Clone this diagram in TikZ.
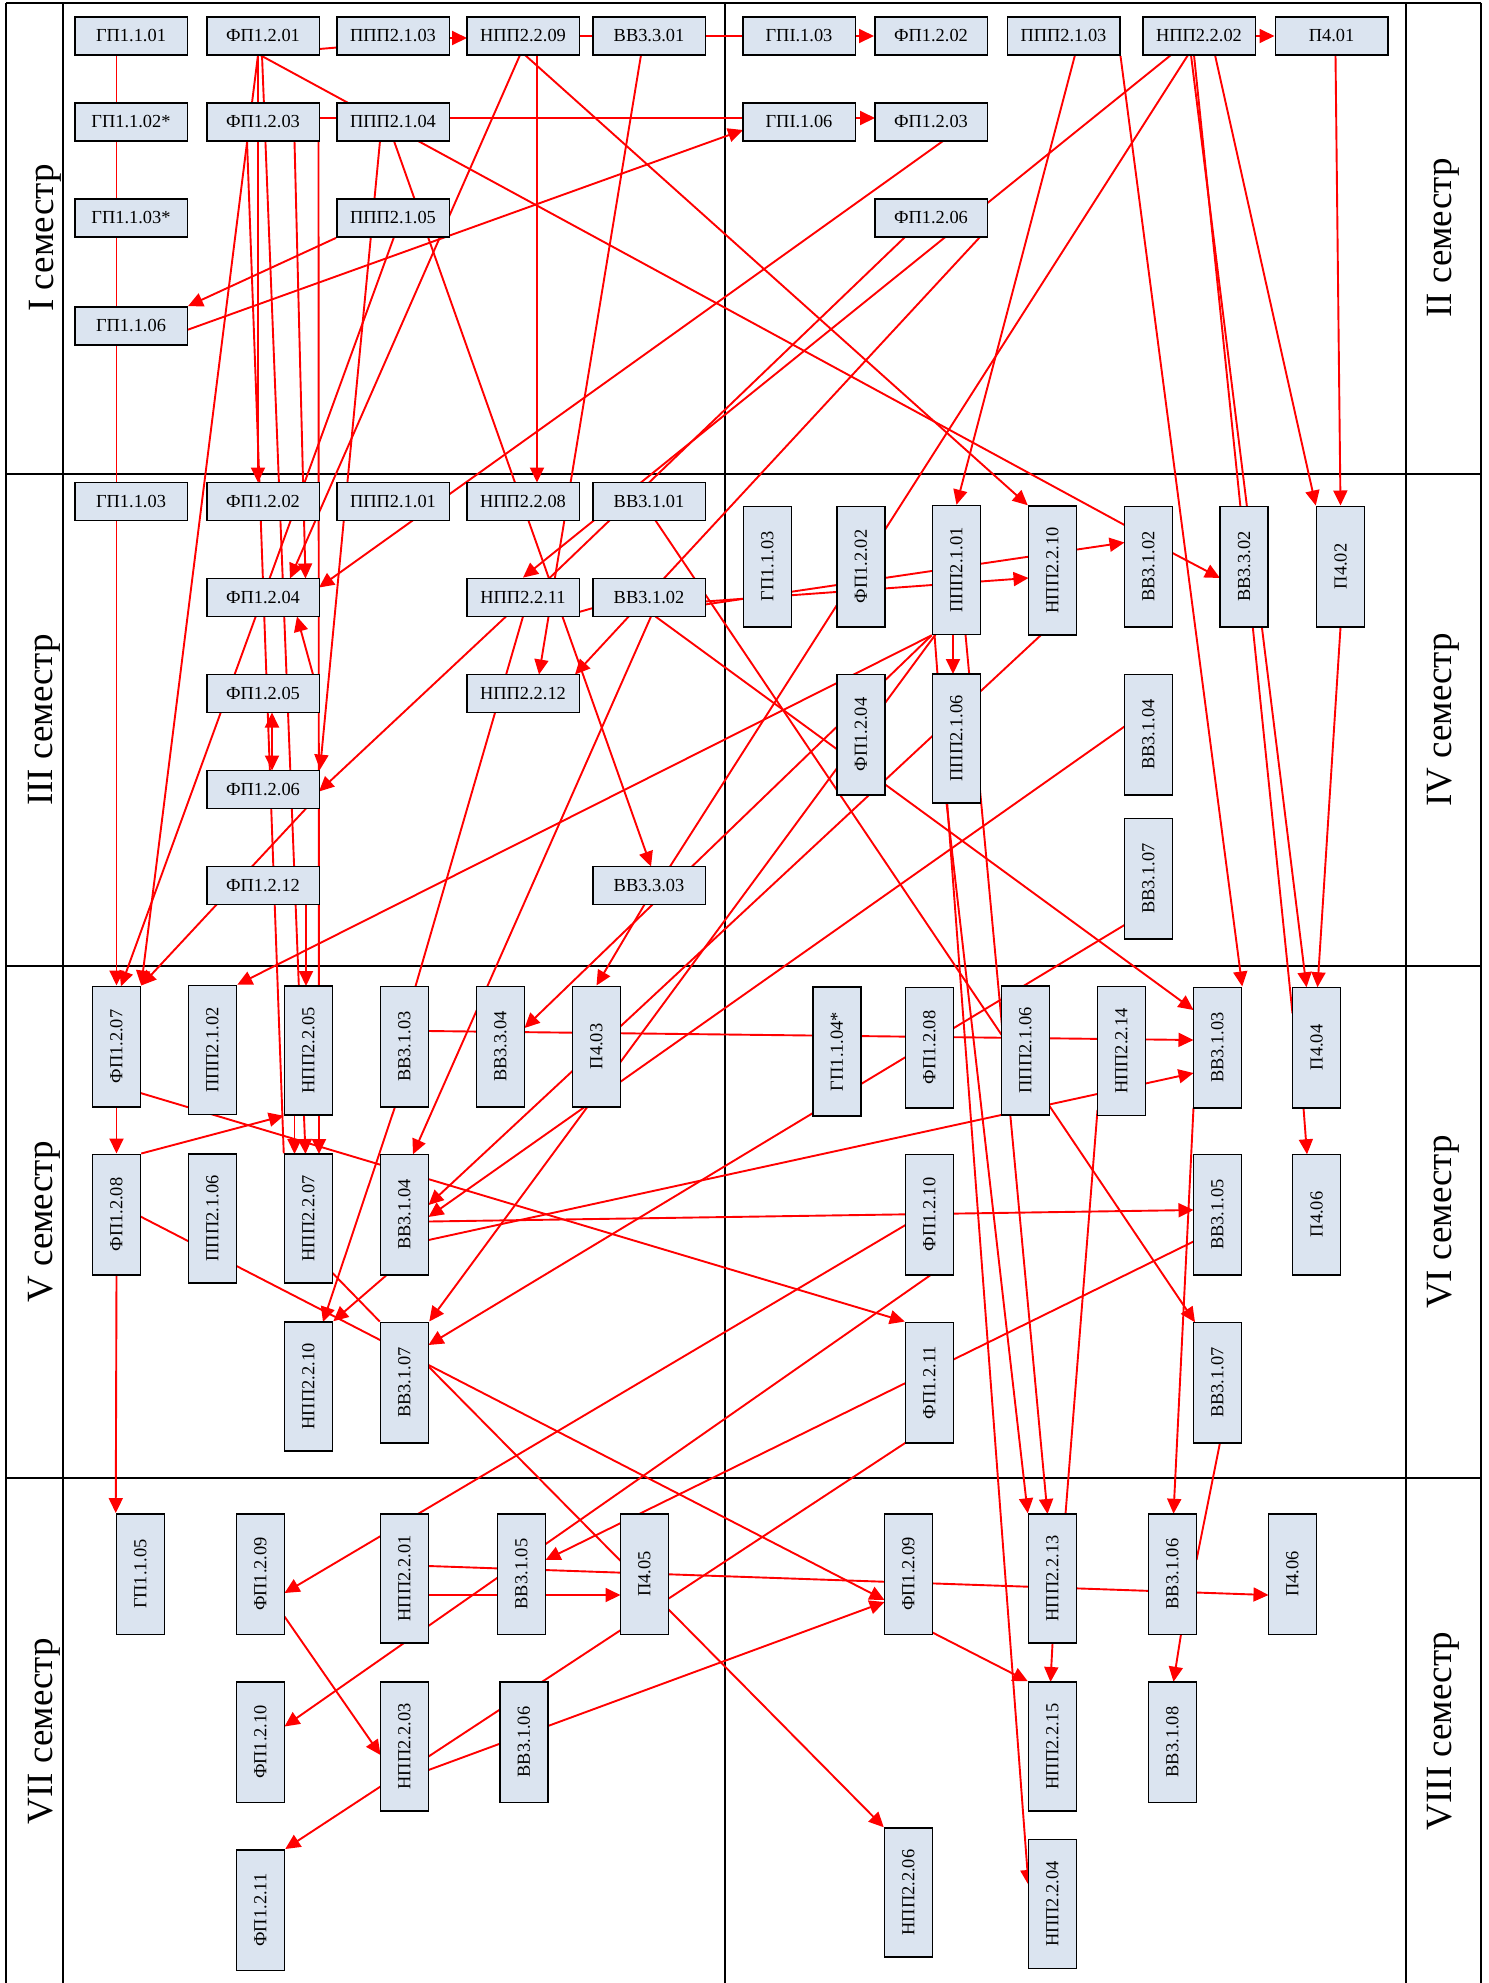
\documentclass[tikz,border=0pt]{standalone}
\usepackage{fontspec}
\setmainfont{Liberation Serif}
\usepackage{graphicx}
\usetikzlibrary{calc,arrows.meta}
\definecolor{boxfill}{HTML}{DBE4F0}
\pgfdeclarelayer{bg}
\pgfsetlayers{bg,main}
\newcommand{\vtext}[1]{\rotatebox{90}{#1}}

\begin{document}
\begin{tikzpicture}[x=0.5pt, y=-0.5pt, >={Triangle[length=7.5pt,width=7pt]},
	hbox/.style={draw, line width=0.75pt, fill=boxfill, inner sep=0pt,
		minimum width=56.25pt, minimum height=19.15pt, font=\fontsize{9.2}{10}\selectfont},
	vbox/.style={hbox, minimum width=24pt, minimum height=60.25pt},
	vboxl/.style={vbox, minimum height=64.5pt},
	sem/.style={rotate=90, font=\fontsize{18.5}{20}\selectfont},
	ln/.style={draw=red, line width=0.95pt},
	arr/.style={ln, ->},
	tabline/.style={line width=0.9pt}]
	\useasboundingbox (0,0) rectangle (1489,1983);

	% semester I
	\node[hbox] (g1101) at (131,36) {ГП1.1.01};
	\node[hbox] (f1201) at (263,36) {ФП1.2.01};
	\node[hbox] (p2103) at (393,36) {ППП2.1.03};
	\node[hbox] (n2209) at (523,36) {НПП2.2.09};
	\node[hbox] (v3301) at (649,36) {ВВ3.3.01};
	\node[hbox] (g1102) at (131,122) {ГП1.1.02*};
	\node[hbox] (f1203) at (263,122) {ФП1.2.03};
	\node[hbox] (p2104) at (393,122) {ППП2.1.04};
	\node[hbox] (g1103s) at (131,218) {ГП1.1.03*};
	\node[hbox] (p2105) at (393,218) {ППП2.1.05};
	\node[hbox] (g1106) at (131,326) {ГП1.1.06};

	% semester II
	\node[hbox] (gb1103) at (799,36) {ГПІ.1.03};
	\node[hbox] (fb1202) at (931,36) {ФП1.2.02};
	\node[hbox] (pb2103) at (1063.5,36) {ППП2.1.03};
	\node[hbox] (nb2202) at (1199,36) {НПП2.2.02};
	\node[hbox] (pb401) at (1331.5,36) {П4.01};
	\node[hbox] (gb1106) at (799,122) {ГПІ.1.06};
	\node[hbox] (fb1203) at (931,122) {ФП1.2.03};
	\node[hbox] (fb1206) at (931,218) {ФП1.2.06};

	% semester III
	\node[hbox] (g1103) at (131,501.5) {ГП1.1.03};
	\node[hbox] (f1202) at (263,501.5) {ФП1.2.02};
	\node[hbox] (p2101) at (393,501.5) {ППП2.1.01};
	\node[hbox] (n2208) at (523,501.5) {НПП2.2.08};
	\node[hbox] (v3101) at (649,501.5) {ВВ3.1.01};
	\node[hbox] (f1204) at (263,597.5) {ФП1.2.04};
	\node[hbox] (n2211) at (523,597.5) {НПП2.2.11};
	\node[hbox] (v3102) at (649,597.5) {ВВ3.1.02};
	\node[hbox] (f1205) at (263,693.5) {ФП1.2.05};
	\node[hbox] (n2212) at (523,693.5) {НПП2.2.12};
	\node[hbox] (f1206) at (263,789.5) {ФП1.2.06};
	\node[hbox] (f1212) at (263,885.5) {ФП1.2.12};
	\node[hbox] (v3303) at (649,885.5) {ВВ3.3.03};

	% semester IV
	\node[vbox] (c1103) at (767.5,566.5) {\vtext{ГП1.1.03}};
	\node[vbox] (c1202) at (861,566.5) {\vtext{ФП1.2.02}};
	\node[vboxl] (c2101) at (956.5,570) {\vtext{ППП2.1.01}};
	\node[vboxl] (c2210) at (1052.5,570.5) {\vtext{НПП2.2.10}};
	\node[vbox] (c3102) at (1148.5,566.5) {\vtext{ВВ3.1.02}};
	\node[vbox] (c3302) at (1244,566.5) {\vtext{ВВ3.3.02}};
	\node[vbox] (c402) at (1340.5,566.5) {\vtext{П4.02}};
	\node[vbox] (c1204) at (861,734.5) {\vtext{ФП1.2.04}};
	\node[vboxl] (c2106) at (956.5,738.5) {\vtext{ППП2.1.06}};
	\node[vbox] (c3104) at (1148.5,734.5) {\vtext{ВВ3.1.04}};
	\node[vbox] (c3107) at (1148.5,878.5) {\vtext{ВВ3.1.07}};

	% semester V
	\node[vbox] (e1207) at (116.5,1046.5) {\vtext{ФП1.2.07}};
	\node[vboxl] (e2102) at (212.5,1050) {\vtext{ППП2.1.02}};
	\node[vboxl] (e2205) at (308.5,1050.5) {\vtext{НПП2.2.05}};
	\node[vbox] (e3103) at (404.5,1046.5) {\vtext{ВВ3.1.03}};
	\node[vbox] (e3304) at (500.5,1046.5) {\vtext{ВВ3.3.04}};
	\node[vbox] (e403) at (596.5,1046.5) {\vtext{П4.03}};
	\node[vbox] (e1208) at (116.5,1214.5) {\vtext{ФП1.2.08}};
	\node[vboxl] (e2106) at (212.5,1218.5) {\vtext{ППП2.1.06}};
	\node[vboxl] (e2207) at (308.5,1218.5) {\vtext{НПП2.2.07}};
	\node[vbox] (e3104) at (404.5,1214.5) {\vtext{ВВ3.1.04}};
	\node[vboxl] (e2210) at (308.5,1386.5) {\vtext{НПП2.2.10}};
	\node[vbox] (e3107) at (404.5,1382.5) {\vtext{ВВ3.1.07}};

	% semester VI
	\node[vboxl] (s1104) at (837,1051.5) {\vtext{ГП1.1.04*}};
	\node[vbox] (s1208) at (929.5,1047.5) {\vtext{ФП1.2.08}};
	\node[vboxl] (s2106) at (1025.5,1050.5) {\vtext{ППП2.1.06}};
	\node[vboxl] (s2214) at (1121.5,1051) {\vtext{НПП2.2.14}};
	\node[vbox] (s3103) at (1217.5,1047.5) {\vtext{ВВ3.1.03}};
	\node[vbox] (s404) at (1316.5,1047.5) {\vtext{П4.04}};
	\node[vbox] (s1210) at (929.5,1214.5) {\vtext{ФП1.2.10}};
	\node[vbox] (s3105) at (1217.5,1214.5) {\vtext{ВВ3.1.05}};
	\node[vbox] (s406) at (1316.5,1214.5) {\vtext{П4.06}};
	\node[vbox] (s1211) at (929.5,1382.5) {\vtext{ФП1.2.11}};
	\node[vbox] (s3107) at (1217.5,1382.5) {\vtext{ВВ3.1.07}};

	% semester VII
	\node[vbox] (h1105) at (140.5,1574) {\vtext{ГП1.1.05}};
	\node[vbox] (h1209) at (260.5,1574) {\vtext{ФП1.2.09}};
	\node[vboxl] (h2201) at (404.5,1578.5) {\vtext{НПП2.2.01}};
	\node[vbox] (h3105) at (521.5,1574) {\vtext{ВВ3.1.05}};
	\node[vbox] (h405) at (644.5,1574) {\vtext{П4.05}};
	\node[vbox] (h1210) at (260.5,1742) {\vtext{ФП1.2.10}};
	\node[vboxl] (h2203) at (404.5,1746.5) {\vtext{НПП2.2.03}};
	\node[vbox] (h3106) at (524,1742) {\vtext{ВВ3.1.06}};
	\node[vbox] (h1211) at (260.5,1910) {\vtext{ФП1.2.11}};

	% semester VIII
	\node[vbox] (k1209) at (908.5,1574) {\vtext{ФП1.2.09}};
	\node[vboxl] (k2213) at (1052.5,1578.5) {\vtext{НПП2.2.13}};
	\node[vbox] (k3106) at (1172.5,1574) {\vtext{ВВ3.1.06}};
	\node[vbox] (k406) at (1292.5,1574) {\vtext{П4.06}};
	\node[vboxl] (k2215) at (1052.5,1746.5) {\vtext{НПП2.2.15}};
	\node[vbox] (k3108) at (1172.5,1742) {\vtext{ВВ3.1.08}};
	\node[vboxl] (k2206) at (908.5,1892.5) {\vtext{НПП2.2.06}};
	\node[vboxl] (k2204) at (1052.5,1904) {\vtext{НПП2.2.04}};

	% semester labels
	\node[sem] (t1) at (45,238) {I семестр};
	\node[sem] (t2) at (1443,238) {II семестр};
	\node[sem] (t3) at (44,720) {III семестр};
	\node[sem] (t4) at (1443,720) {IV семестр};
	\node[sem] (t5) at (44,1222) {V семестр};
	\node[sem] (t6) at (1443,1222) {VI семестр};
	\node[sem] (t7) at (44,1731) {VII семестр};
	\node[sem] (t8) at (1443,1731) {VIII семестр};

	\begin{pgfonlayer}{bg}
		% table
		\draw[tabline] (6,2.7) -- (1481,2.7);
		\foreach \y in {474,965.7,1477.7}{
			\draw[tabline] (6,\y) -- (1481,\y);
		}
		\foreach \x in {6,62.7,724.6,1405.6,1481}{
			\draw[tabline] (\x,2.7) -- (\x,1983);
		}

		% rows of semesters I and II
		\draw[ln] ($(f1201)+(56,13)$) -- ($(p2103)+(-56,11.5)$);
		\draw[arr] ($(p2103)+(56,2)$) -- ($(n2209)+(-56,2)$);
		\draw[ln] (n2209.east) -- (v3301.west);
		\draw[ln] (v3301.east) -- (gb1103.west);
		\draw[arr] (gb1103.east) -- (fb1202.west);
		\draw[arr] (nb2202.east) -- (pb401.west);
		\draw[ln] ($(f1203)+(56,-4)$) -- ($(p2104)+(-56,-4)$);
		\draw[ln] ($(p2104)+(56,-4)$) -- ($(gb1106)+(-56,-4)$);
		\draw[arr] ($(gb1106)+(56,-4)$) -- ($(fb1203)+(-56,-4)$);
		\draw[arr] ($(g1106)+(56,4)$) -- ($(gb1106)+(-56,8)$);
		\draw[arr] (p2105.south west) -- (g1106.north east);

		% long links from semesters I and II
		\draw[arr] ($(g1101)+(-14.5,19)$) -- (e1207.north);
		\draw[arr] ($(f1201)+(-5,19)$) -- ($(f1202)+(-5,-19)$);
		\draw[arr] ($(f1201)+(-5,19)$) -- (e1207.north east);
		\draw[arr] ($(f1201)+(-1,19)$) -- ($(e2207)+(-3,-64.5)$);
		\draw[ln] ($(f1201)+(-3,19)$) -- ($(c3102)+(-24,-41.5)$);
		\draw[arr] ($(n2209)+(2,19)$) -- (c2210.north west);
		\draw[arr] ($(n2209)+(14,19)$) -- ($(n2208)+(14,-19)$);
		\draw[arr] ($(n2209)+(-3,19)$) -- ($(f1204)+(27,-19)$);
		\draw[arr] ($(v3301)+(-8,19)$) -- ($(n2212)+(16,-19)$);
		\draw[arr] ($(p2105)+(1,19)$) -- ($(e1207)+(4.5,-60.25)$);
		\draw[arr] ($(p2104)+(-13,19)$) -- (f1206.north east);
		\draw[arr] ($(p2104)+(1,19)$) -- ($(v3303)+(2,-19)$);
		\draw[arr] ($(fb1203)+(12,19)$) -- ($(f1204)+(56,-10)$);
		\draw[arr] ($(pb2103)+(11.5,19)$) -- (c2101.north);
		\draw[arr] (pb2103.south east) -- (s3103.north east);
		\draw[arr] ($(nb2202)+(-28,19)$) -- (n2211.north);
		\draw[ln] ($(nb2202)+(-11,19)$) -- ($(v3303)+(21,-19)$);
		\draw[arr] ($(nb2202)+(-8,19)$) -- ($(s404)+(-10,-60.25)$);
		\draw[ln] ($(nb2202)+(-5,19)$) -- ($(s404)+(-24,-34)$);
		\draw[arr] ($(nb2202)+(16,19)$) -- (c402.north west);
		\draw[arr] ($(pb401)+(4,19)$) -- (c402.north);
		\draw[ln] ($(fb1206)+(-26,19)$) -- ($(n2211)+(26,-19)$);
		\draw[arr] ($(fb1206)+(49,19)$) -- ($(n2212)+(52,-19)$);

		% semester III
		\draw[arr] ($(f1203)+(31.5,19)$) -- ($(f1204)+(42.5,-19)$);
		\draw[arr] ($(f1203)+(55.5,19)$) -- ($(e2207)+(10.5,-64.5)$);
		\draw[ln] ($(f1203)+(-16,19)$) -- (e2207.north west);
		\draw[arr] ($(f1205)+(50,-19)$) -- ($(f1204)+(34,19)$);
		\draw[ln, <->] ($(f1205)+(9,19)$) -- ($(f1206)+(9,-19)$);
		\draw[arr] ($(f1206)+(43,19)$) -- (e1207.north east);
		\draw[arr] ($(f1212)+(43,19)$) -- ($(e2205)+(-2.5,-64.5)$);
		\draw[arr] ($(v3102)+(56,4)$) -- ($(c2210)+(-24,7.5)$);
		\draw[arr] ($(v3102)+(56,7)$) -- ($(c3102)+(-24,-24)$);
		\draw[ln] ($(n2211)+(56,14.5)$) -- ($(v3102)+(-56,10.5)$);
		\draw[arr] ($(v3101)+(6.5,19)$) -- ($(s3107)+(-22.5,-60.25)$);
		\draw[arr] ($(v3102)+(6.5,19)$) -- ($(s3103)+(-24,-37.5)$);
		\draw[arr] ($(v3102)+(2,19)$) -- ($(e3104)+(8.5,-60.25)$);
		\draw[ln] ($(n2211)+(0,19)$) -- ($(e3103)+(11,-60.25)$);
		\draw[arr] ($(n2211)+(-17,19)$) -- ($(f1206)+(56,2)$);
		\draw[arr] ($(v3303)+(-4.5,19)$) -- (e403.north);

		% semester IV
		\draw[arr] ($(c3102)+(24,-13.5)$) -- ($(c3302)+(-24,11.5)$);
		\draw[arr] (c402.south) -- ($(s404)+(1,-60.25)$);
		\draw[arr] (c2101.south west) -- (e2102.north east);
		\draw[arr] (c2101.south west) -- ($(e3304)+(24,-18.5)$);
		\draw[arr] ($(c2101)+(-21,64.5)$) -- (e3107.north east);
		\draw[arr] ($(c2101)+(-3.5,64.5)$) -- ($(c2106)+(-3.5,-64.5)$);
		\draw[arr] ($(c2101)+(-22,64.5)$) -- ($(k2204)+(-24,-19)$);
		\draw[arr] ($(c2101)+(9,64.5)$) -- ($(k2213)+(-5,-64.5)$);
		\draw[arr] ($(c2106)+(-10,64.5)$) -- (k2213.north west);
		\draw[arr] ($(c2210)+(-11.5,64.5)$) -- ($(e3104)+(24,-9.5)$);
		\draw[arr] ($(c3104)+(-24,-8)$) -- ($(e3104)+(24,2.5)$);
		\draw[arr] ($(c3107)+(-24,46.5)$) -- ($(e3107)+(24,-37.5)$);

		% semester V
		\draw[arr] (e1207.south) -- (e1208.north);
		\draw[arr] (e1208.south) -- (h1105.north west);
		\draw[arr] ($(e1207)+(24,46.5)$) -- (s1211.north west);
		\draw[arr] (e1208.north east) -- (e2205.south west);
		\draw[arr] ($(e1208)+(24,2)$) -- ($(k1209)+(-24,26)$);
		\draw[arr] ($(e2205)+(-14,64.5)$) -- ($(e2207)+(-14,-64.5)$);
		\draw[arr] ($(e3103)+(24,-15.5)$) -- ($(s3103)+(-24,-7.5)$);
		\draw[arr] ($(e3103)+(-9.5,60.25)$) -- ($(e2210)+(14.5,-64.5)$);
		\draw[arr] ($(e3104)+(-17.5,60.25)$) -- (e2210.north east);
		\draw[arr] ($(e3104)+(24,7)$) -- ($(s3105)+(-24,-4.5)$);
		\draw[arr] ($(e3104)+(24,25.5)$) -- ($(s3103)+(-24,25.5)$);
		\draw[ln] ($(e2207)+(24,54.5)$) -- (e3107.north west);
		\draw[arr] ($(e3107)+(24,-16)$) -- (k2206.north west);

		% semester VI
		\draw[ln] ($(s2214)+(-24,59)$) -- ($(k2213)+(13,-64.5)$);
		\draw[arr] ($(s3103)+(-24,60.25)$) -- ($(k3106)+(1,-60.25)$);
		\draw[ln] ($(s3107)+(2.5,60.25)$) -- ($(k3106)+(24,-14)$);
		\draw[arr] ($(s404)+(-13,60.25)$) -- ($(s406)+(-9.5,-60.25)$);
		\draw[arr] ($(s1210)+(-24,10.5)$) -- ($(h1209)+(24,19)$);
		\draw[arr] ($(s1210)+(1.5,60.25)$) -- ($(h1210)+(24,-15.5)$);
		\draw[arr] ($(s3105)+(-24,27)$) -- ($(h3105)+(24,-14)$);
		\draw[ln] ($(s1211)+(-24,60.25)$) -- ($(h2203)+(24,10)$);

		% semesters VII and VIII
		\draw[arr] ($(h2203)+(24,23.5)$) -- ($(k1209)+(-24,28)$);
		\draw[arr] ($(h2201)+(24,16.5)$) -- ($(h405)+(-24,21)$);
		\draw[arr] ($(h2201)+(24,-12.5)$) -- ($(k406)+(-24,21)$);
		\draw[arr] ($(h1209)+(24,42.5)$) -- ($(h2203)+(-24,8.5)$);
		\draw[arr] ($(h2203)+(-24,40)$) -- (h1211.north east);
		\draw[arr] ($(k1209)+(24,58.5)$) -- (k2215.north west);
		\draw[arr] (k2213.south) -- ($(k2215)+(-2,-64.5)$);
		\draw[arr] ($(k3106)+(8.5,60.25)$) -- ($(k3108)+(1,-60.25)$);
	\end{pgfonlayer}
\end{tikzpicture}
\end{document}
